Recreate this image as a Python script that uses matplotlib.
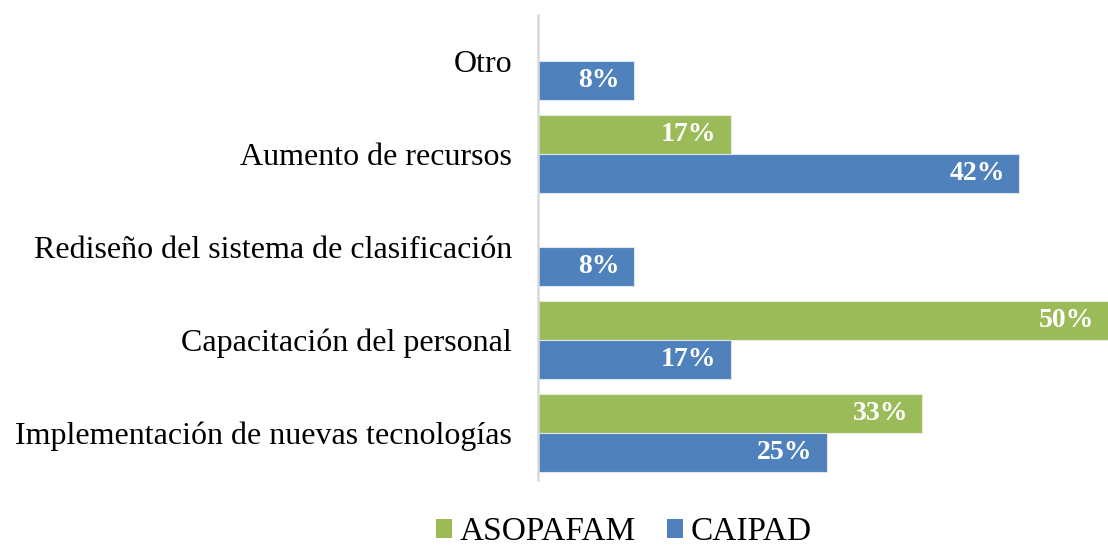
import numpy as np
import matplotlib
matplotlib.use("Agg")
import matplotlib.pyplot as plt
from matplotlib.patches import Patch

categories = ["Implementación de nuevas tecnologías", "Capacitación del personal",
              "Rediseño del sistema de clasificación", "Aumento de recursos", "Otro"]
asopafam = [33.3, 50.0, np.nan, 16.7, np.nan]
caipad = [25.0, 16.7, 8.3, 41.7, 8.3]
series_names = ["ASOPAFAM", "CAIPAD"]

green = "#9BBB59"
blue = "#4F81BD"

plt.rcParams["font.family"] = ["Liberation Serif", "DejaVu Serif"]

fig = plt.figure(figsize=(11.08, 5.46), dpi=100)
ax = fig.add_axes([538 / 1108, 1 - 479.5 / 546, (1115 - 538) / 1108, (479.5 - 14.5) / 546])

y = np.arange(len(categories))
h = 0.415
ax.barh(y + h / 2, asopafam, height=h, color=green, edgecolor="#e8eedd", linewidth=0.8)
ax.barh(y - h / 2, caipad, height=h, color=blue, edgecolor="#dde5ee", linewidth=0.8)

ax.set_xlim(0, 50)
ax.set_ylim(-0.5, len(categories) - 0.5)
ax.set_yticks(y)
ax.set_yticklabels(categories, fontsize=23.0)
ax.tick_params(axis="y", length=0, pad=18.8)
ax.set_xticks([])
for s in ["top", "right", "bottom"]:
    ax.spines[s].set_visible(False)
ax.spines["left"].set_color("#d9d9d9")
ax.spines["left"].set_linewidth(1.8)

vis_max = 49.4
for vals, off in [(asopafam, h / 2), (caipad, -h / 2)]:
    for i, v in enumerate(vals):
        if np.isnan(v):
            continue
        ax.annotate(f"{round(v):d}%", xy=(min(v, vis_max), i + off), xytext=(-14, 0),
                    textcoords="offset pixels", ha="right", va="center",
                    color="white", fontweight="bold", fontsize=20, annotation_clip=False)

handles = [Patch(facecolor=green), Patch(facecolor=blue)]
fig.legend(handles, series_names, loc="center", bbox_to_anchor=(624 / 1108, 14 / 546),
           ncol=2, frameon=False, fontsize=24, handlelength=0.47, handleheight=0.5,
           handletextpad=0.22, columnspacing=0.95, borderpad=0.1)

fig.savefig("out.png", dpi=100)
